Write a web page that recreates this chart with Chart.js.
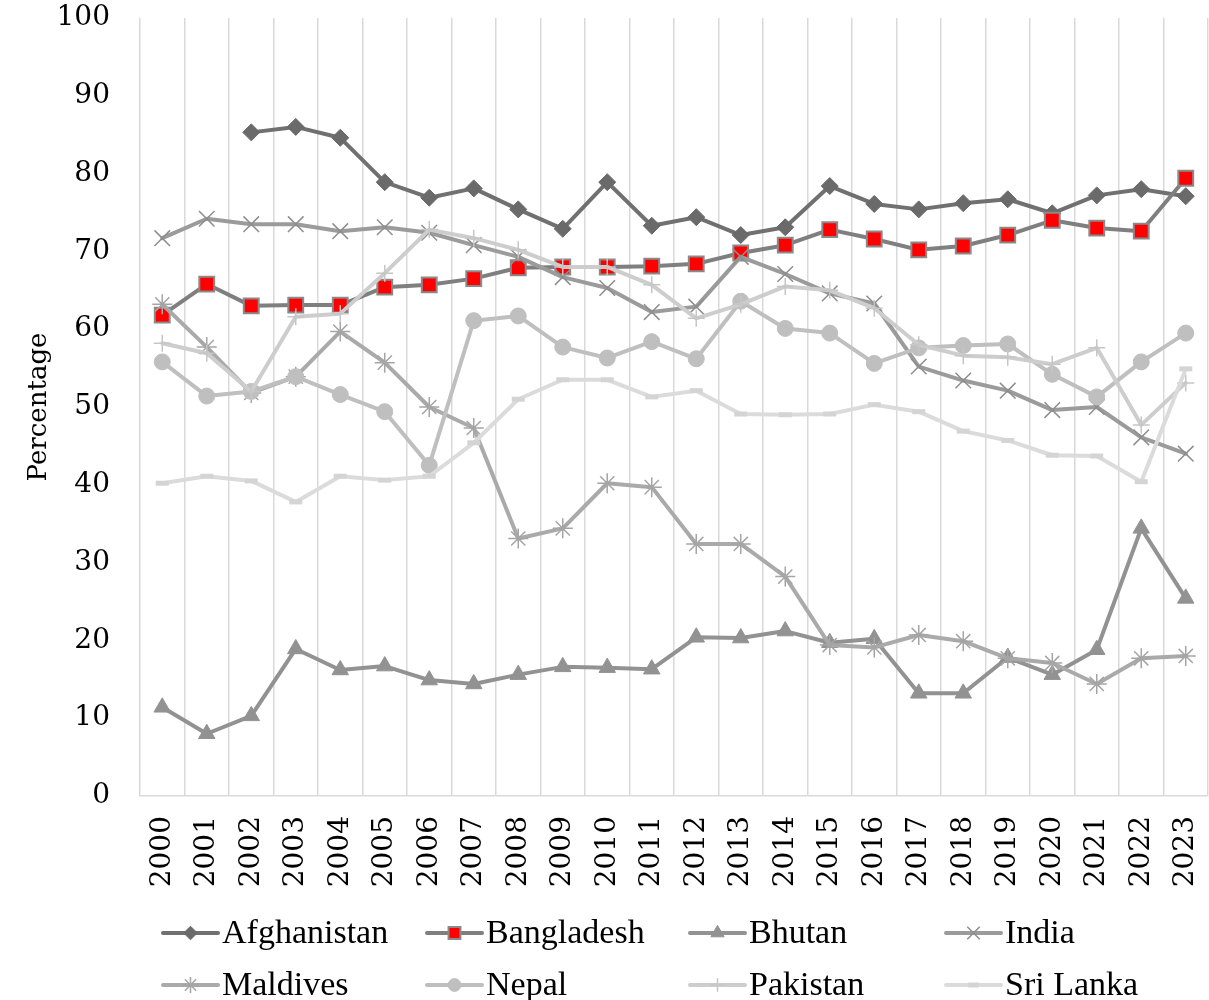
<!DOCTYPE html>
<html>
<head>
<meta charset="utf-8">
<script src="https://cdn.jsdelivr.net/npm/chart.js@4"></script>
<style>
  html, body { margin: 0; padding: 0; background: #ffffff; }
  #wrap { width: 1209px; height: 1000px; }
</style>
</head>
<body>
<div id="wrap"><canvas id="c" width="1209" height="1000"></canvas></div>
<script>
const years = ['2000','2001','2002','2003','2004','2005','2006','2007','2008','2009','2010','2011',
               '2012','2013','2014','2015','2016','2017','2018','2019','2020','2021','2022','2023'];

const afghanistan = [null, null, 85.3, 86.0, 84.6, 78.9, 76.9, 78.1, 75.4, 72.9, 78.9, 73.3,
                     74.4, 72.1, 73.1, 78.4, 76.1, 75.4, 76.2, 76.7, 74.9, 77.2, 78.0, 77.1];
const bangladesh  = [61.8, 65.8, 63.0, 63.1, 63.1, 65.4, 65.7, 66.5, 67.9, 68.0, 68.0, 68.1,
                     68.4, 69.8, 70.8, 72.8, 71.6, 70.2, 70.7, 72.1, 74.0, 73.0, 72.6, 79.4];
const bhutan      = [11.4, 8.0, 10.3, 18.9, 16.2, 16.7, 14.9, 14.4, 15.6, 16.6, 16.5, 16.3,
                     20.4, 20.3, 21.2, 19.7, 20.2, 13.2, 13.2, 17.8, 15.6, 18.8, 34.4, 25.4];
const india       = [71.7, 74.2, 73.5, 73.5, 72.6, 73.1, 72.4, 70.8, 69.3, 66.7, 65.3, 62.2,
                     62.9, 69.3, 67.1, 64.6, 63.3, 55.2, 53.4, 52.1, 49.6, 50.0, 46.1, 44.0];
const maldives    = [63.2, 57.7, 51.8, 53.9, 59.7, 55.7, 50.0, 47.3, 33.1, 34.4, 40.2, 39.7,
                     32.4, 32.4, 28.2, 19.4, 19.1, 20.7, 19.9, 17.7, 17.1, 14.4, 17.7, 18.0];
const nepal       = [55.8, 51.4, 52.0, 53.9, 51.6, 49.4, 42.5, 61.1, 61.7, 57.7, 56.3, 58.4,
                     56.2, 63.6, 60.1, 59.5, 55.6, 57.6, 57.9, 58.1, 54.2, 51.3, 55.8, 59.5];
const pakistan    = [58.2, 56.9, 52.0, 61.6, 62.0, 67.2, 72.8, 71.7, 70.2, 68.0, 68.0, 65.7,
                     61.4, 63.2, 65.5, 65.0, 62.7, 58.0, 56.6, 56.4, 55.5, 57.6, 47.7, 53.1];
const sriLanka    = [40.2, 41.1, 40.5, 37.8, 41.1, 40.6, 41.1, 45.4, 51.0, 53.5, 53.5, 51.3,
                     52.1, 49.1, 49.0, 49.1, 50.3, 49.4, 46.9, 45.7, 43.8, 43.7, 40.4, 54.9];

const seriesNames = ['Afghanistan','Bangladesh','Bhutan','India','Maldives','Nepal','Pakistan','Sri Lanka'];
const seriesData  = [afghanistan, bangladesh, bhutan, india, maldives, nepal, pakistan, sriLanka];
const yTicks = [0,10,20,30,40,50,60,70,80,90,100];

const styles = [
  { line:'#707070', bg:'#6a6a6a', border:'#6a6a6a', ps:'rectRot',  r:8.5, bw:1 },
  { line:'#7f7f7f', bg:'#ff0000', border:'#8a8a8a', ps:'rect',     r:10.5, bw:2 },
  { line:'#929292', bg:'#929292', border:'#929292', ps:'triangle', r:9.5, bw:1 },
  { line:'#9b9b9b', bg:'#8e8e8e', border:'#8e8e8e', ps:'crossRot', r:11, bw:1.5 },
  { line:'#aaaaaa', bg:'#a5a5a5', border:'#a5a5a5', ps:'star',     r:10, bw:1.5 },
  { line:'#bfbfbf', bg:'#bfbfbf', border:'#bfbfbf', ps:'circle',   r:8, bw:1 },
  { line:'#cdcdcd', bg:'#c6c6c6', border:'#c6c6c6', ps:'cross',    r:8.5, bw:1.5 },
  { line:'#dbdbdb', bg:'#d4d4d4', border:'#d4d4d4', ps:'line',     r:6.5, bw:5 }
];

const datasets = seriesNames.map((name, i) => ({
  label: name,
  data: seriesData[i],
  borderColor: styles[i].line,
  backgroundColor: styles[i].bg,
  borderWidth: 4,
  borderJoinStyle: 'round',
  borderCapStyle: 'round',
  pointStyle: styles[i].ps,
  pointRadius: styles[i].r,
  pointHoverRadius: styles[i].r,
  pointBackgroundColor: styles[i].bg,
  pointBorderColor: styles[i].border,
  pointBorderWidth: styles[i].bw,
  tension: 0,
  spanGaps: false,
  clip: false,
  order: seriesNames.length - 1 - i
}));

const legendPlugin = {
  id: 'gridLegend',
  afterDraw(chart) {
    const ctx = chart.ctx;
    const colX = [163, 427, 690, 946];
    const rowY = [933, 985];
    ctx.save();
    chart.data.datasets.forEach((ds, i) => {
      const col = i % 4, row = Math.floor(i / 4);
      const x0 = colX[col], y = rowY[row];
      ctx.beginPath();
      ctx.strokeStyle = ds.borderColor;
      ctx.lineWidth = 4;
      ctx.lineCap = 'round';
      ctx.moveTo(x0, y);
      ctx.lineTo(x0 + 55, y);
      ctx.stroke();
      ctx.fillStyle = ds.pointBackgroundColor;
      ctx.strokeStyle = ds.pointBorderColor;
      ctx.lineWidth = ds.pointBorderWidth;
      ctx.lineCap = 'butt';
      Chart.helpers.drawPoint(ctx, {
        pointStyle: ds.pointStyle,
        radius: ds.pointRadius * 0.8,
        rotation: 0,
        borderWidth: ds.pointBorderWidth
      }, x0 + 27.5, y);
      ctx.fillStyle = '#000000';
      ctx.font = '34px "Liberation Serif", "Times New Roman", serif';
      ctx.textBaseline = 'middle';
      ctx.textAlign = 'left';
      ctx.fillText(ds.label, x0 + 59, y + 1);
    });
    ctx.restore();
  }
};

new Chart(document.getElementById('c'), {
  type: 'line',
  data: { labels: years, datasets },
  options: {
    responsive: false,
    animation: false,
    layout: { autoPadding: false, padding: { top: 18, right: 1, bottom: 0, left: 0 } },
    plugins: {
      legend: { display: false },
      tooltip: { enabled: false }
    },
    scales: {
      x: {
        type: 'category',
        offset: true,
        grid: { display: true, offset: true, color: '#d9d9d9', lineWidth: 1.5, drawTicks: false },
        border: { display: true, color: '#d9d9d9', width: 1.5 },
        ticks: {
          autoSkip: false, minRotation: 90, maxRotation: 90, padding: 20,
          color: '#000000',
          font: { family: '"DejaVu Serif", serif', size: 28 }
        },
        afterFit(scale) {
          scale.height = 204;
          scale.paddingLeft = 0; scale.paddingRight = 0;
        }
      },
      y: {
        min: 0, max: 100,
        afterBuildTicks(scale) { scale.ticks = yTicks.map(v => ({ value: v })); },
        grid: { display: false, drawTicks: false },
        border: { display: false },
        ticks: {
          padding: 30, color: '#000000',
          font: { family: '"DejaVu Serif", serif', size: 28 }
        },
        title: {
          display: true, text: 'Percentage', color: '#000000',
          font: { family: '"DejaVu Serif", serif', size: 26 },
          padding: { top: 24, bottom: 0 }
        },
        afterFit(scale) {
          scale.width = 140;
          scale.paddingTop = 0; scale.paddingBottom = 0;
        }
      }
    }
  },
  plugins: [legendPlugin]
});
</script>
</body>
</html>
